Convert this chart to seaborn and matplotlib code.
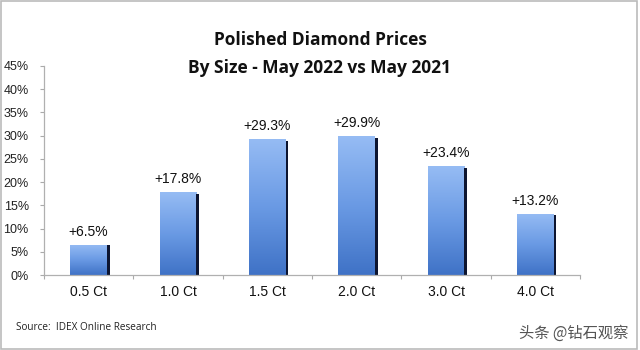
import numpy as np
import pandas as pd
import matplotlib
matplotlib.use("Agg")
import matplotlib.pyplot as plt
import seaborn as sns
from matplotlib.colors import LinearSegmentedColormap
from matplotlib.patches import Rectangle

categories = ["0.5 Ct", "1.0 Ct", "1.5 Ct", "2.0 Ct", "3.0 Ct", "4.0 Ct"]
values = [6.5, 17.8, 29.3, 29.9, 23.4, 13.2]
labels = ["+6.5%", "+17.8%", "+29.3%", "+29.9%", "+23.4%", "+13.2%"]
yticks = [0, 5, 10, 15, 20, 25, 30, 35, 40, 45]
ytick_labels = ["0%", "5%", "10%", "15%", "20%", "25%", "30%", "35%", "40%", "45%"]

sns.set_theme(style="white")
plt.rcParams['font.family'] = ['Liberation Sans', 'DejaVu Sans']

df = pd.DataFrame({"size": categories, "pct": values})

fig = plt.figure(figsize=(6.4, 3.5), dpi=100)
ax = fig.add_axes([44/640, 1-275/350, (580-44)/640, (275-66)/350])

sns.barplot(data=df, x="size", y="pct", ax=ax, color="#6b9be6", width=0.41,
            saturation=1, edgecolor="none")

cmap = LinearSegmentedColormap.from_list("g", ["#3f72c6", "#6a9ae4", "#96bcf4"])
grad = np.linspace(0, 1, 256).reshape(-1, 1)
for p, lab in zip(ax.patches, labels):
    x0, y0 = p.get_x(), p.get_y()
    w, h = p.get_width(), p.get_height()
    im = ax.imshow(grad, cmap=cmap, origin="lower", aspect="auto",
                   extent=[x0, x0 + w, y0, y0 + h], zorder=p.get_zorder() + 0.1)
    im.set_clip_path(p)
    # dark shadow edge on the right side
    ax.add_patch(Rectangle((x0 + w, y0), w * 0.07, h * 0.985 if h > 0 else 0,
                           facecolor="#0d1530", edgecolor="none", zorder=p.get_zorder() + 0.2))
    ax.text(x0 + w / 2, h + 1.3, lab, ha="center", va="bottom", fontsize=10, color="#111111")

ax.set_ylim(0, 45)
ax.set_xlim(-0.5, len(categories) - 0.5)
ax.set_yticks(yticks)
ax.set_yticklabels(ytick_labels, fontsize=9, color="#222222")
ax.set_xlabel("")
ax.set_ylabel("")
ax.tick_params(axis="x", length=0, labelsize=10, labelcolor="#111111", pad=7)
ax.tick_params(axis="y", left=True, length=3, width=0.8, color="#aaaaaa", pad=8)
# category boundary ticks on x axis
ax.set_xticks(np.arange(-0.5, len(categories), 1), minor=True)
ax.tick_params(axis="x", which="minor", bottom=True, length=3, width=0.8, color="#aaaaaa")
for s in ["top", "right"]:
    ax.spines[s].set_visible(False)
for s in ["left", "bottom"]:
    ax.spines[s].set_color("#b0b0b0")
    ax.spines[s].set_linewidth(0.9)

fig.text(0.5, 1 - 40/350, "Polished Diamond Prices", ha="center", va="center",
         fontsize=12.5, fontweight="bold", family=["Open Sans", "DejaVu Sans"], color="#111111")
fig.text(0.5, 1 - 68/350, "By Size - May 2022 vs May 2021", ha="center", va="center",
         fontsize=12.5, fontweight="bold", family=["Open Sans", "DejaVu Sans"], color="#111111")
fig.text(16/640, 1 - 328/350, "Source:  IDEX Online Research", ha="left", va="center",
         fontsize=7.2, family=["Open Sans", "DejaVu Sans"], color="#222222")
fig.text(628/640, 1 - 333/350, "头条 @钻石观察", ha="right", va="center",
         fontsize=11, family=["Noto Sans CJK SC", "DejaVu Sans"], color="#555555")

border = Rectangle((0.002, 0.004), 0.993, 0.992, transform=fig.transFigure,
                   fill=False, edgecolor="#bbbbbb", linewidth=1.2)
fig.patches.append(border)

fig.savefig("out.png", dpi=100)
